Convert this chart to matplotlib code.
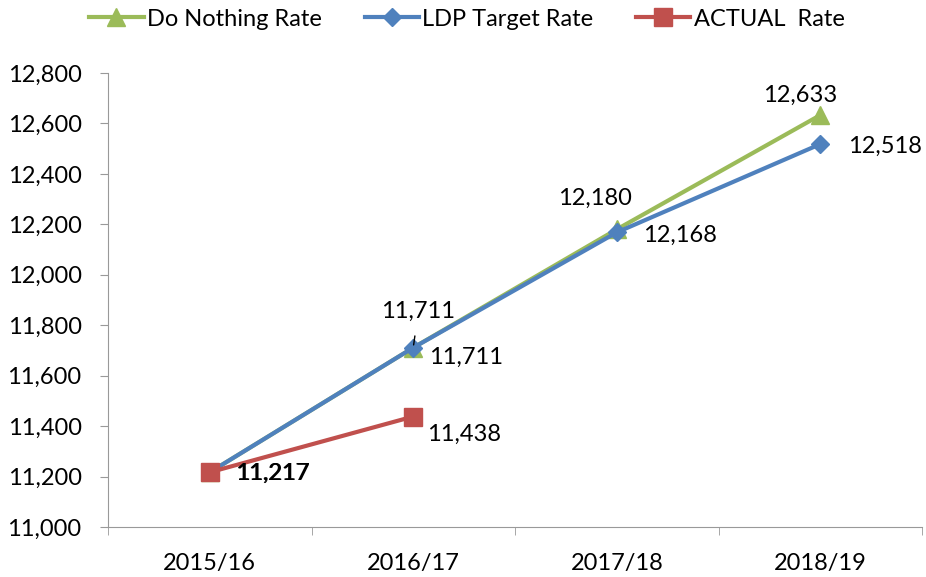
import matplotlib
matplotlib.use("Agg")
import matplotlib.pyplot as plt

plt.rcParams['font.family'] = ['Lato', 'DejaVu Sans']

categories = ["2015/16", "2016/17", "2017/18", "2018/19"]
do_nothing = [11217, 11711, 12180, 12633]
ldp_target = [11217, 11711, 12168, 12518]
actual = [11217, 11438]
yticks = [11000, 11200, 11400, 11600, 11800, 12000, 12200, 12400, 12600, 12800]

green = "#9BBB59"
blue = "#4F81BD"
red = "#C0504D"
fs = 17

fig = plt.figure(figsize=(9.26, 5.77), dpi=100)
ax = fig.add_axes([108/926, 50/577, 814/926, 454/577])

x = list(range(len(categories)))
l1, = ax.plot(x, do_nothing, color=green, lw=3, marker="^", ms=13, label="Do Nothing Rate", zorder=3)
l2, = ax.plot(x, ldp_target, color=blue, lw=3, marker="D", ms=9, label="LDP Target Rate", zorder=4)
l3, = ax.plot(x[:len(actual)], actual, color=red, lw=3, marker="s", ms=13, label="ACTUAL  Rate", zorder=5)

ax.set_xlim(-0.5, 3.5)
ax.set_ylim(11000, 12800)
ax.set_yticks(yticks)
ax.set_yticklabels([f"{v:,}" for v in yticks], fontsize=fs)
ax.set_xticks(x)
ax.set_xticklabels(categories, fontsize=fs)
ax.tick_params(axis="x", which="major", length=0, pad=19)
ax.set_xticks([i - 0.5 for i in range(len(categories) + 1)], minor=True)
ax.tick_params(axis="x", which="minor", length=6, color="#999999")
ax.tick_params(axis="y", length=6, color="#999999", pad=13)
for s in ["top", "right"]:
    ax.spines[s].set_visible(False)
for s in ["left", "bottom"]:
    ax.spines[s].set_color("#999999")

def lab(xi, v, dx, dy, ha="left", **kw):
    ax.annotate(f"{v:,}", (xi, v), xytext=(dx, dy), textcoords="offset pixels",
                ha=ha, va="center", fontsize=fs, zorder=7, **kw)

# 2015/16 labels (overlapping)
lab(0, actual[0], 25, -1)
lab(0, actual[0], 26, -1)
lab(1, actual[1], 14, -18)
lab(1, do_nothing[1], 16, -10)
ax.annotate(f"{ldp_target[1]:,}", (1, ldp_target[1]), xytext=(5, 36), textcoords="offset pixels",
            ha="center", va="center", fontsize=fs, zorder=7,
            arrowprops=dict(arrowstyle="-", color="black", lw=1.0, shrinkA=8, shrinkB=2))
lab(2, do_nothing[2], -22, 31, ha="center")
lab(2, ldp_target[2], 26, -3)
lab(3, do_nothing[3], -20, 20, ha="center")
lab(3, ldp_target[3], 28, -2)

fig.legend(handles=[l1, l2, l3], loc="center", bbox_to_anchor=(467/926, 1 - 19/577),
           ncol=3, frameon=False, fontsize=fs, handlelength=2.3, handletextpad=0.15,
           columnspacing=1.8, markerscale=1.0)

fig.savefig("out.png", dpi=100)
